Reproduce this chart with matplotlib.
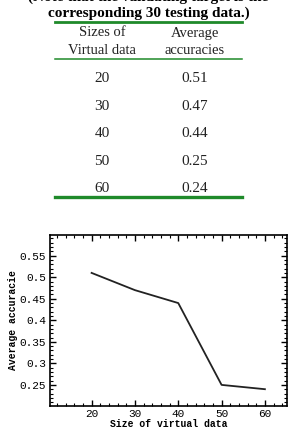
import matplotlib
matplotlib.use("Agg")
import matplotlib.pyplot as plt
from matplotlib.ticker import FixedLocator, MultipleLocator, FuncFormatter
from matplotlib.lines import Line2D

# ---- data ----
title_lines = ["(Note that the validating target is the", "corresponding 30 testing data.)"]
col_headers = [["Sizes of", "Virtual data"], ["Average", "accuracies"]]
sizes = [20, 30, 40, 50, 60]
accuracies = [0.51, 0.47, 0.44, 0.25, 0.24]
accuracy_labels = ["0.51", "0.47", "0.44", "0.25", "0.24"]
x_label = "Size of virtual data"
y_label = "Average accuracie"
y_ticks = [0.25, 0.3, 0.35, 0.4, 0.45, 0.5, 0.55]

W, H = 289, 433
fig = plt.figure(figsize=(W / 100, H / 100), dpi=100)
fig.patch.set_facecolor("white")

def fx(px):
    return px / W

def fy(py):
    return 1 - py / H

serif = "Liberation Serif"
mono = "Liberation Mono"
green = "#1f8a2a"

# title (first line clipped at top, as in the reference)
fig.text(fx(148.5), fy(-3), title_lines[0], ha="center", va="center",
         family=serif, weight="bold", fontsize=11, color="black")
fig.text(fx(148.5), fy(13), title_lines[1], ha="center", va="center",
         family=serif, weight="bold", fontsize=11, color="black")

# green rules
for y, lw in [(22, 2.0), (59, 1.1), (197, 2.4)]:
    fig.add_artist(Line2D([fx(55), fx(242)], [fy(y), fy(y)], color=green, lw=lw,
                          transform=fig.transFigure))

col_x = [102, 195]
for cx, hdr in zip(col_x, col_headers):
    fig.text(fx(cx), fy(33), hdr[0], ha="center", va="center", family=serif,
             fontsize=10.5, color="#222222")
    fig.text(fx(cx), fy(50), hdr[1], ha="center", va="center", family=serif,
             fontsize=10.5, color="#222222")

row0, row_step = 79, 27.4
for i, (s, a) in enumerate(zip(sizes, accuracy_labels)):
    y = row0 + i * row_step
    fig.text(fx(col_x[0]), fy(y), str(s), ha="center", va="center", family=serif,
             fontsize=11, color="#222222")
    fig.text(fx(col_x[1]), fy(y), a, ha="center", va="center", family=serif,
             fontsize=11, color="#222222")

# ---- plot ----
ax = fig.add_axes([fx(50), fy(406), fx(287) - fx(50), fy(235) - fy(406)])
ax.plot(sizes, accuracies, color="#222222", lw=1.3)
ax.set_xlim(10.4, 65.1)
ax.set_ylim(0.201, 0.598)
ax.xaxis.set_major_locator(FixedLocator(sizes))
ax.xaxis.set_minor_locator(MultipleLocator(2))
ax.yaxis.set_major_locator(FixedLocator(y_ticks))
ax.yaxis.set_minor_locator(MultipleLocator(0.01))
ax.yaxis.set_major_formatter(FuncFormatter(lambda v, p: "%g" % v))
ax.tick_params(which="both", direction="in", top=True, right=True, colors="black",
               labelsize=8)
ax.tick_params(which="major", length=4, width=1)
ax.tick_params(which="minor", length=2, width=0.8)
ax.tick_params(axis="x", pad=2)
ax.tick_params(axis="y", pad=3)
for lab in ax.get_xticklabels() + ax.get_yticklabels():
    lab.set_family(mono)
for sp in ax.spines.values():
    sp.set_linewidth(1.2)
ax.set_xlabel(x_label, family=mono, fontsize=7, weight="bold", labelpad=0)
ax.set_ylabel(y_label, family=mono, fontsize=7, weight="bold", labelpad=1)

fig.savefig("out.png", dpi=100)
